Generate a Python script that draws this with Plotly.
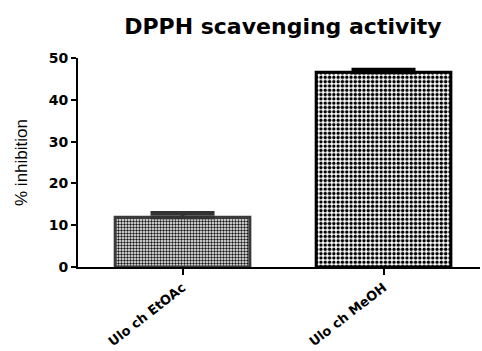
import plotly.graph_objects as go

categories = ["Ulo ch EtOAc", "Ulo ch MeOH"]
values = [11.9, 46.6]
errors = [1.0, 0.6]
y_ticks = [0, 10, 20, 30, 40, 50]

fig = go.Figure()
styles = [
    dict(fg="#1a1a1a", line="#3a3a3a", size=3, err="#333333"),
    dict(fg="#000000", line="#000000", size=4.3, err="#000000"),
]
for i, (c, v, e) in enumerate(zip(categories, values, errors)):
    s = styles[i]
    fig.add_trace(go.Bar(
        x=[c], y=[v], width=0.67,
        marker=dict(
            color="white",
            line=dict(color=s["line"], width=3),
            pattern=dict(shape=".", fgcolor=s["fg"], bgcolor="white",
                         size=s["size"], solidity=0.5, fillmode="replace"),
        ),
        error_y=dict(type="data", array=[e], symmetric=False, arrayminus=[0],
                     color=s["err"], thickness=4, width=32),
        showlegend=False,
    ))

BOLD = "DejaVu Sans, Liberation Sans, Arial"
fig.update_layout(
    width=482, height=351,
    margin=dict(l=78, r=2, t=58, b=84, autoexpand=False),
    plot_bgcolor="white", paper_bgcolor="white",
    font=dict(family="Liberation Sans, Arial", color="black"),
    title=dict(text="<b>DPPH scavenging activity</b>", x=0.587, xanchor="center",
               y=0.926, yanchor="middle",
               font=dict(family=BOLD, size=22, color="black")),
    barmode="overlay",
)
fig.update_yaxes(
    range=[0, 50], tickvals=y_ticks, ticktext=[f"<b>{t}</b>" for t in y_ticks],
    showgrid=False, zeroline=False, showline=True, linecolor="black", linewidth=2,
    ticks="outside", ticklen=5, tickwidth=2, tickcolor="black", automargin=False,
    tickfont=dict(family=BOLD, size=14),
    title=dict(text="% inhibition", font=dict(family="Liberation Sans, Arial", size=17),
               standoff=17),
)
fig.update_xaxes(
    range=[-0.52, 1.48], type="category", automargin=False,
    tickvals=categories, ticktext=[f"<b>{c}</b>" for c in categories],
    showgrid=False, showline=True, linecolor="black", linewidth=2,
    ticks="outside", ticklen=6, tickwidth=2, tickcolor="black",
    tickangle=-38, tickfont=dict(family=BOLD, size=13),
)
fig.write_html("out.html", post_script="document.body.style.margin='0';",
               config={"displayModeBar": False})
